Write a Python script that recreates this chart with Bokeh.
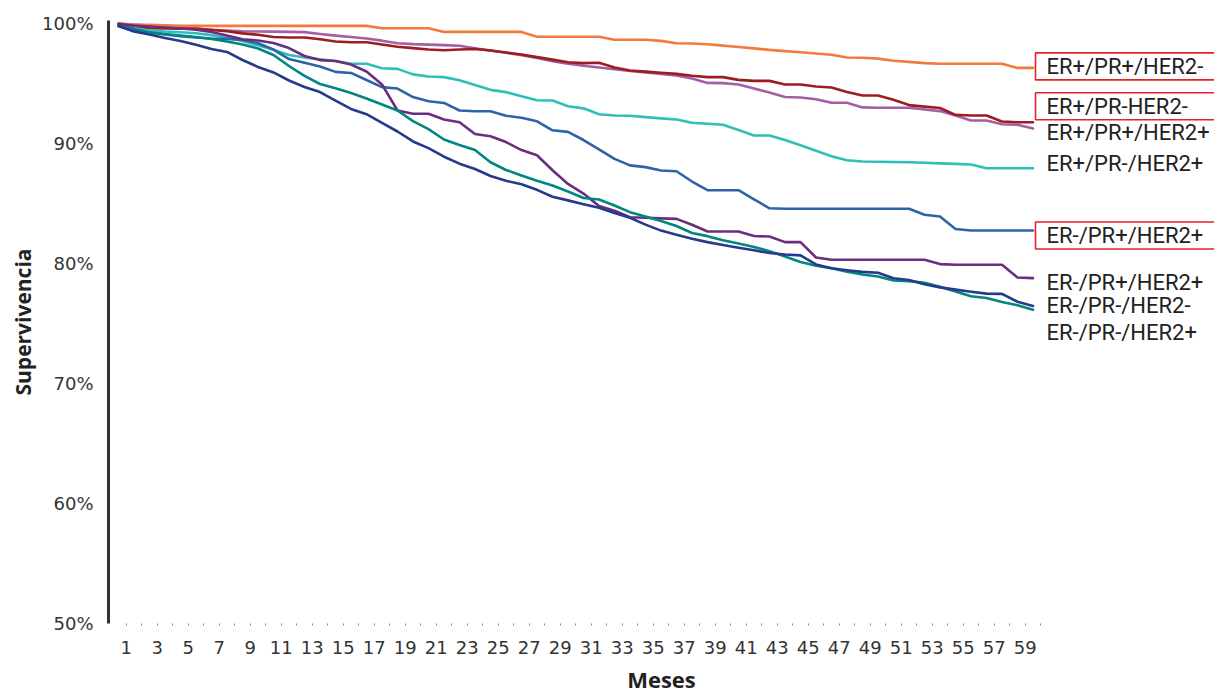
from bokeh.plotting import figure
from bokeh.models import Range1d, FixedTicker, ColumnDataSource
from bokeh.core.properties import value
from bokeh.embed import file_html
from bokeh.resources import INLINE

months = list(range(1, 61))

er_pos_pr_pos_her2_neg = [
    100.0, 99.9, 99.9, 99.85, 99.8, 99.8, 99.8, 99.8, 99.8, 99.8,
    99.8, 99.8, 99.8, 99.8, 99.8, 99.8, 99.8, 99.6, 99.6, 99.6,
    99.6, 99.3, 99.3, 99.3, 99.3, 99.3, 99.3, 98.9, 98.9, 98.9,
    98.9, 98.9, 98.65, 98.65, 98.65, 98.55, 98.35, 98.33, 98.27, 98.16,
    98.04, 97.93, 97.8, 97.7, 97.6, 97.5, 97.4, 97.17, 97.15, 97.07,
    96.9, 96.8, 96.7, 96.64, 96.64, 96.64, 96.64, 96.64, 96.3, 96.3]

er_pos_pr_neg_her2_neg = [
    99.97, 99.69, 99.6, 99.58, 99.57, 99.57, 99.46, 99.35, 99.18, 99.06,
    98.87, 98.83, 98.83, 98.69, 98.5, 98.44, 98.44, 98.25, 98.06, 97.95,
    97.83, 97.77, 97.83, 97.88, 97.75, 97.58, 97.42, 97.2, 96.99, 96.77,
    96.7, 96.73, 96.33, 96.08, 95.99, 95.89, 95.8, 95.65, 95.53, 95.53,
    95.3, 95.22, 95.22, 94.92, 94.92, 94.75, 94.67, 94.3, 94.0, 94.0,
    93.64, 93.2, 93.07, 92.96, 92.39, 92.33, 92.33, 91.83, 91.77, 91.77]

er_pos_pr_pos_her2_pos = [
    99.98, 99.92, 99.83, 99.74, 99.65, 99.56, 99.48, 99.41, 99.35, 99.33,
    99.32, 99.3, 99.28, 99.13, 98.99, 98.87, 98.75, 98.57, 98.35, 98.28,
    98.24, 98.2, 98.14, 97.94, 97.75, 97.56, 97.36, 97.12, 96.86, 96.65,
    96.48, 96.33, 96.19, 96.04, 95.92, 95.79, 95.66, 95.41, 95.05, 95.03,
    94.91, 94.58, 94.25, 93.87, 93.83, 93.69, 93.39, 93.39, 93.01, 92.98,
    92.98, 92.98, 92.84, 92.7, 92.33, 91.92, 91.92, 91.6, 91.56, 91.25]

er_pos_pr_neg_her2_pos = [
    99.83, 99.62, 99.42, 99.33, 99.27, 99.19, 99.03, 98.83, 98.54, 98.18,
    97.81, 97.37, 97.17, 97.01, 96.87, 96.64, 96.64, 96.27, 96.22, 95.76,
    95.58, 95.53, 95.27, 94.87, 94.47, 94.28, 93.94, 93.6, 93.58, 93.11,
    92.93, 92.44, 92.33, 92.31, 92.2, 92.09, 92.0, 91.73, 91.64, 91.56,
    91.12, 90.67, 90.67, 90.29, 89.85, 89.39, 88.94, 88.6, 88.5, 88.48,
    88.46, 88.44, 88.39, 88.34, 88.3, 88.25, 87.94, 87.94, 87.94, 87.94]

er_neg_pr_pos_her2_pos_a = [
    99.92, 99.54, 99.25, 99.08, 98.95, 98.83, 98.75, 98.72, 98.62, 98.36,
    97.83, 97.04, 96.73, 96.42, 95.97, 95.88, 95.29, 94.7, 94.58, 93.87,
    93.52, 93.38, 92.75, 92.69, 92.69, 92.31, 92.14, 91.85, 91.1, 90.97,
    90.29, 89.52, 88.72, 88.18, 88.03, 87.75, 87.69, 86.83, 86.11, 86.11,
    86.11, 85.35, 84.6, 84.56, 84.56, 84.56, 84.56, 84.56, 84.56, 84.56,
    84.56, 84.56, 84.06, 83.92, 82.88, 82.75, 82.75, 82.75, 82.75, 82.75]

er_neg_pr_pos_her2_pos_b = [
    99.97, 99.83, 99.75, 99.67, 99.58, 99.48, 99.29, 99.0, 98.69, 98.58,
    98.38, 97.95, 97.29, 96.95, 96.88, 96.58, 96.0, 94.92, 92.75, 92.48,
    92.48, 92.0, 91.77, 90.79, 90.61, 90.12, 89.45, 89.02, 87.77, 86.63,
    85.83, 84.79, 84.4, 83.85, 83.81, 83.76, 83.72, 83.23, 82.67, 82.67,
    82.67, 82.29, 82.25, 81.78, 81.78, 80.5, 80.31, 80.31, 80.31, 80.31,
    80.31, 80.31, 80.31, 79.95, 79.89, 79.89, 79.89, 79.89, 78.83, 78.78]

er_neg_pr_neg_her2_neg = [
    99.79, 99.33, 99.08, 98.79, 98.54, 98.23, 97.88, 97.63, 96.96, 96.38,
    95.92, 95.25, 94.71, 94.29, 93.58, 92.88, 92.44, 91.71, 91.0, 90.17,
    89.61, 88.9, 88.32, 87.87, 87.29, 86.89, 86.6, 86.14, 85.56, 85.26,
    84.94, 84.64, 84.21, 83.81, 83.24, 82.74, 82.39, 82.06, 81.78, 81.54,
    81.32, 81.1, 80.87, 80.75, 80.68, 79.92, 79.6, 79.44, 79.3, 79.23,
    78.77, 78.63, 78.27, 78.01, 77.82, 77.65, 77.49, 77.47, 76.81, 76.46]

er_neg_pr_neg_her2_pos = [
    99.79, 99.38, 99.25, 99.13, 99.0, 98.88, 98.71, 98.5, 98.25, 97.92,
    97.38, 96.46, 95.63, 94.96, 94.6, 94.2, 93.75, 93.25, 92.75, 91.87,
    91.2, 90.33, 89.87, 89.46, 88.44, 87.79, 87.33, 86.89, 86.5, 86.0,
    85.46, 85.33, 84.83, 84.28, 83.92, 83.54, 83.12, 82.54, 82.28, 81.93,
    81.67, 81.38, 81.03, 80.58, 80.13, 79.82, 79.6, 79.32, 79.09, 78.91,
    78.58, 78.53, 78.4, 78.07, 77.66, 77.27, 77.12, 76.79, 76.52, 76.14]

series_names = ["ER+/PR+/HER2-", "ER+/PR-HER2-", "ER+/PR+/HER2+", "ER+/PR-/HER2+",
                "ER-/PR+/HER2+", "ER-/PR+/HER2+", "ER-/PR-/HER2-", "ER-/PR-/HER2+"]
series_values = [er_pos_pr_pos_her2_neg, er_pos_pr_neg_her2_neg, er_pos_pr_pos_her2_pos,
                 er_pos_pr_neg_her2_pos, er_neg_pr_pos_her2_pos_a, er_neg_pr_pos_her2_pos_b,
                 er_neg_pr_neg_her2_neg, er_neg_pr_neg_her2_pos]
boxed = [True, True, False, False, True, False, False, False]

y_ticks = [50, 60, 70, 80, 90, 100]
y_tick_labels = ["50%", "60%", "70%", "80%", "90%", "100%"]

# styles
colors = ["#F47A3C", "#9C1C22", "#A45FA4", "#2FBFB9", "#2F63A7", "#6C2D80", "#263A8C", "#00877F"]
draw_order = [2, 1, 0, 3, 4, 5, 7, 6]
label_dy = [-1.5, -16, 4, -5, 5, 4.5, -0.5, 23]

p = figure(width=1214, height=700, output_backend="svg", toolbar_location=None,
           x_range=Range1d(0.355, 71.71), y_range=Range1d(50, 100.25),
           min_border_left=108, min_border_right=0, min_border_top=20, min_border_bottom=77)
p.outline_line_color = None
p.grid.visible = False
p.background_fill_color = "white"
p.border_fill_color = "white"

for i in draw_order:
    p.line(months, series_values[i], line_color=colors[i], line_width=2.6,
           line_join="round", line_cap="round")

# x axis
p.xaxis.ticker = FixedTicker(ticks=[m + 0.5 for m in months])
p.xaxis.major_label_overrides = {m + 0.5: (str(m) if m % 2 == 1 else "") for m in months}
p.xaxis.axis_line_color = None
p.xaxis.major_tick_line_color = "#8a8a8a"
p.xaxis.major_tick_in = 0
p.xaxis.major_tick_out = 2
p.xaxis.minor_tick_line_color = None
p.xaxis.major_label_text_font = "DejaVu Sans"
p.xaxis.major_label_text_font_size = "18px"
p.xaxis.major_label_text_color = "#333333"
p.xaxis.major_label_standoff = 15
p.xaxis.axis_label = "Meses"
p.xaxis.axis_label_text_font = "Open Sans"
p.xaxis.axis_label_text_font_style = "bold"
p.xaxis.axis_label_text_font_size = "22px"
p.xaxis.axis_label_text_color = "#222222"
p.xaxis.axis_label_standoff = 7

# y axis
p.yaxis.ticker = FixedTicker(ticks=y_ticks)
p.yaxis.major_label_overrides = dict(zip(y_ticks, y_tick_labels))
p.yaxis.axis_line_color = "#333333"
p.yaxis.axis_line_width = 3
p.yaxis.major_tick_line_color = None
p.yaxis.minor_tick_line_color = None
p.yaxis.major_label_text_font = "DejaVu Sans"
p.yaxis.major_label_text_font_size = "18px"
p.yaxis.major_label_text_color = "#333333"
p.yaxis.major_label_standoff = 9
p.yaxis.axis_label = "Supervivencia"
p.yaxis.axis_label_text_font = "Open Sans"
p.yaxis.axis_label_text_font_style = "bold"
p.yaxis.axis_label_text_font_size = "21px"
p.yaxis.axis_label_text_color = "#222222"
p.yaxis.axis_label_standoff = 2

# end labels
def label_source(sel):
    idx = [i for i in range(len(series_names)) if sel(i)]
    return ColumnDataSource(dict(
        x=[months[-1]] * len(idx),
        y=[series_values[i][-1] for i in idx],
        text=[series_names[i] for i in idx],
        dy=[label_dy[i] for i in idx]))

common = dict(x="x", y="y", text="text", y_offset="dy",
              text_font=value("Roboto"), text_font_size="22px", text_color="#222222",
              text_align="left", text_baseline="middle")
p.text(source=label_source(lambda i: not boxed[i]), x_offset=13.5, **common)
p.text(source=label_source(lambda i: boxed[i]), x_offset=2.5, border_line_color="#E8202A",
       border_line_width=1.6, padding=dict(left=11, right=40, top=1, bottom=1), **common)

open("out.html", "w").write(file_html(p, INLINE))
